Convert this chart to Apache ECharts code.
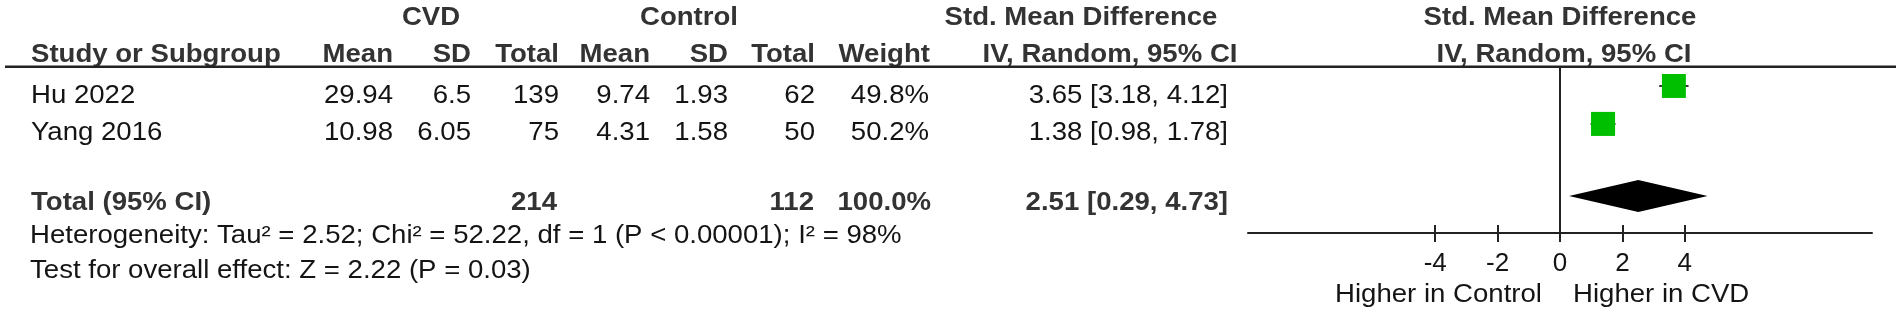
<!DOCTYPE html>
<html>
<head>
<meta charset="utf-8">
<script src="https://cdn.jsdelivr.net/npm/echarts@6/dist/echarts.min.js"></script>
<style>
html,body{margin:0;padding:0;background:#ffffff;}
#chart{width:1902px;height:318px;}
</style>
</head>
<body>
<div id="chart"></div>
<script>
// ---------------- data ----------------
const groupLabels = ['CVD', 'Control'];
const studies = ['Hu 2022', 'Yang 2016'];
const cvdMean = [29.94, 10.98];
const cvdSD = [6.5, 6.05];
const cvdTotal = [139, 75];
const ctrlMean = [9.74, 4.31];
const ctrlSD = [1.93, 1.58];
const ctrlTotal = [62, 50];
const weights = [49.8, 50.2];
const smd = [3.65, 1.38];
const ciLow = [3.18, 0.98];
const ciHigh = [4.12, 1.78];
const totalLabel = 'Total (95% CI)';
const pooledCvdTotal = 214;
const pooledCtrlTotal = 112;
const pooledWeight = 100.0;
const pooledSmd = 2.51;
const pooledLow = 0.29;
const pooledHigh = 4.73;
const heterogeneityText = 'Heterogeneity: Tau\u00B2 = 2.52; Chi\u00B2 = 52.22, df = 1 (P < 0.00001); I\u00B2 = 98%';
const overallEffectText = 'Test for overall effect: Z = 2.22 (P = 0.03)';
const tickValues = [-4, -2, 0, 2, 4];
const axisMin = -10, axisMax = 10;
const favoursLeft = 'Higher in Control';
const favoursRight = 'Higher in CVD';
const effectTitle = 'Std. Mean Difference';
const effectSub = 'IV, Random, 95% CI';
const colHeaders = ['Study or Subgroup', 'Mean', 'SD', 'Total', 'Mean', 'SD', 'Total', 'Weight'];

// ---------------- layout (not data) ----------------
const FONT = '"Liberation Sans", Arial, sans-serif';
const REG = '25.2px ' + FONT;
const BOLD = 'bold 25.2px ' + FONT;
const SX = 1.095;              // horizontal stretch of the reference lettering
const C_REG = '#141414';
const C_BOLD = '#333333';
const colRight = [null, 393, 471, 559, 650, 728, 815, 930];
const ciRight = 1228;
const textY = { h1: 18.5, h2: 55.5, rows: [95.6, 133], total: 203.3, het: 235.8, test: 270.8, fav: 295 };
const ROWPOS = { rows: [1, 2], total: 3.9 };

function fmtCI(e, l, h) { return e.toFixed(2) + ' [' + l.toFixed(2) + ', ' + h.toFixed(2) + ']'; }

function txt(text, x, y, font, fill, align) {
  return { type: 'text', silent: true, x: x, y: y, scaleX: SX, scaleY: 1,
    style: { text: String(text), x: 0, y: 0, font: font, fill: fill, align: align || 'left', verticalAlign: 'middle' } };
}

const g = [];
// header row 1
g.push(txt(groupLabels[0], 431, textY.h1, BOLD, C_BOLD, 'center'));
g.push(txt(groupLabels[1], 689, textY.h1, BOLD, C_BOLD, 'center'));
g.push(txt(effectTitle, 1081, textY.h1, BOLD, C_BOLD, 'center'));
g.push(txt(effectTitle, 1560, textY.h1, BOLD, C_BOLD, 'center'));
// header row 2
g.push(txt(colHeaders[0], 31, textY.h2, BOLD, C_BOLD, 'left'));
for (let i = 1; i < colHeaders.length; i++) g.push(txt(colHeaders[i], colRight[i], textY.h2, BOLD, C_BOLD, 'right'));
g.push(txt(effectSub, 1110, textY.h2, BOLD, C_BOLD, 'center'));
g.push(txt(effectSub, 1564, textY.h2, BOLD, C_BOLD, 'center'));
// header rule
g.push({ type: 'line', silent: true, shape: { x1: 5, y1: 66.8, x2: 1896, y2: 66.8 }, style: { stroke: '#222', lineWidth: 2.4 } });
// study rows
studies.forEach((s, i) => {
  const y = textY.rows[i];
  g.push(txt(s, 31, y, REG, C_REG, 'left'));
  g.push(txt(cvdMean[i], colRight[1], y, REG, C_REG, 'right'));
  g.push(txt(cvdSD[i], colRight[2], y, REG, C_REG, 'right'));
  g.push(txt(cvdTotal[i], colRight[3], y, REG, C_REG, 'right'));
  g.push(txt(ctrlMean[i], colRight[4], y, REG, C_REG, 'right'));
  g.push(txt(ctrlSD[i], colRight[5], y, REG, C_REG, 'right'));
  g.push(txt(ctrlTotal[i], colRight[6], y, REG, C_REG, 'right'));
  g.push(txt(weights[i].toFixed(1) + '%', colRight[7] - 1, y, REG, C_REG, 'right'));
  g.push(txt(fmtCI(smd[i], ciLow[i], ciHigh[i]), ciRight, y, REG, C_REG, 'right'));
});
// total row
g.push(txt(totalLabel, 31, textY.total, BOLD, C_BOLD, 'left'));
g.push(txt(pooledCvdTotal, colRight[3] - 2, textY.total, BOLD, C_BOLD, 'right'));
g.push(txt(pooledCtrlTotal, colRight[6] - 1, textY.total, BOLD, C_BOLD, 'right'));
g.push(txt(pooledWeight.toFixed(1) + '%', colRight[7] + 1, textY.total, BOLD, C_BOLD, 'right'));
g.push(txt(fmtCI(pooledSmd, pooledLow, pooledHigh), ciRight, textY.total, BOLD, C_BOLD, 'right'));
// footnotes
g.push(txt(heterogeneityText, 30, textY.het, REG, C_REG, 'left'));
g.push(txt(overallEffectText, 30, textY.test, REG, C_REG, 'left'));
// favours labels
g.push(txt(favoursLeft, 1542, textY.fav, REG, C_REG, 'right'));
g.push(txt(favoursRight, 1573, textY.fav, REG, C_REG, 'left'));

const chart = echarts.init(document.getElementById('chart'), null, { renderer: 'canvas' });

const squareData = studies.map((s, i) => [smd[i], ROWPOS.rows[i], weights[i]]);
const whiskerData = studies.map((s, i) => [ciLow[i], ciHigh[i], ROWPOS.rows[i]]);
const diamondData = [[pooledLow, pooledSmd, pooledHigh, ROWPOS.total]];

const option = {
  backgroundColor: '#ffffff',
  animation: false,
  grid: { left: 1248, right: 30, top: 67, bottom: 85, containLabel: false },
  xAxis: [
    {
      type: 'value', min: axisMin, max: axisMax, interval: 2, position: 'bottom',
      splitLine: { show: false },
      axisLine: { show: true, onZero: false, lineStyle: { color: '#222', width: 2 } },
      axisTick: { show: true, customValues: tickValues, length: 9, inside: false, lineStyle: { color: '#222', width: 2 } },
      axisLabel: { show: true, customValues: tickValues, margin: 18, fontSize: 26, fontFamily: FONT, color: C_REG, formatter: v => String(v) }
    },
    {
      type: 'value', min: axisMin, max: axisMax, interval: 2, position: 'bottom', offset: 0,
      splitLine: { show: false },
      axisLine: { show: false, onZero: false },
      axisTick: { show: true, customValues: tickValues, length: 8, inside: true, lineStyle: { color: '#222', width: 2 } },
      axisLabel: { show: false }
    }
  ],
  yAxis: {
    type: 'value', inverse: true, min: 0.5, max: 4.875,
    show: false, splitLine: { show: false }
  },
  series: [
    {
      type: 'custom', name: 'ci', xAxisIndex: 0, yAxisIndex: 0, z: 2,
      renderItem: function (params, api) {
        const a = api.coord([api.value(0), api.value(2)]);
        const b = api.coord([api.value(1), api.value(2)]);
        return { type: 'line', shape: { x1: a[0], y1: a[1], x2: b[0], y2: b[1] }, style: { stroke: '#333', lineWidth: 2 } };
      },
      encode: { x: [0, 1], y: 2 },
      data: whiskerData,
      markLine: {
        silent: true, symbol: ['none', 'none'], label: { show: false },
        lineStyle: { color: '#222', width: 2, type: 'solid' },
        data: [{ xAxis: 0 }]
      }
    },
    {
      type: 'scatter', name: 'studies', xAxisIndex: 0, yAxisIndex: 0, z: 3,
      symbol: 'rect',
      symbolSize: v => 24 * Math.sqrt(v[2] / 50),
      itemStyle: { color: '#00BE00', opacity: 1 },
      data: squareData
    },
    {
      type: 'custom', name: 'pooled', xAxisIndex: 0, yAxisIndex: 0, z: 3,
      renderItem: function (params, api) {
        const lo = api.coord([api.value(0), api.value(3)]);
        const est = api.coord([api.value(1), api.value(3)]);
        const hi = api.coord([api.value(2), api.value(3)]);
        const h = 16;
        return { type: 'polygon', shape: { points: [[lo[0], lo[1]], [est[0], est[1] - h], [hi[0], hi[1]], [est[0], est[1] + h]] }, style: { fill: '#000' } };
      },
      encode: { x: [0, 1, 2], y: 3 },
      data: diamondData
    }
  ],
  graphic: g
};
chart.setOption(option);
</script>
</body>
</html>
